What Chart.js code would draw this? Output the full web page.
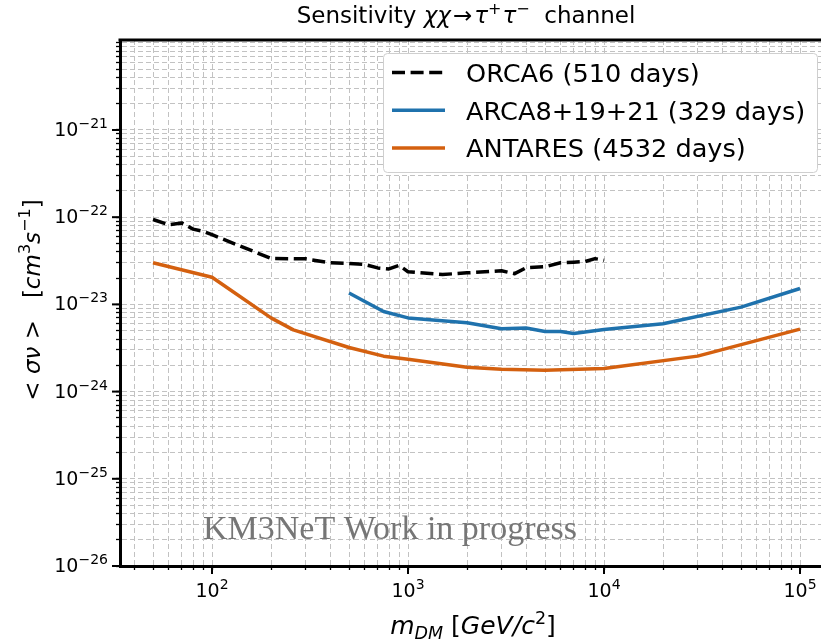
<!DOCTYPE html>
<html><head><meta charset="utf-8">
<script src="https://cdn.jsdelivr.net/npm/chart.js@4.4.0/dist/chart.umd.min.js"></script>
<style>html,body{margin:0;padding:0;background:#fff;overflow:hidden}canvas{display:block}</style>
</head><body>
<canvas id="c" width="821" height="641"></canvas>
<script>
// ---- data ----
const orcaMass = [50, 60, 70, 80, 90, 100, 200, 300, 400, 500, 600, 700, 800, 900, 1000, 1500, 2000, 3000, 3500, 4000, 5000, 6000, 7000, 8000, 9000, 10000];
const orcaSens = [9.4e-23, 8.2e-23, 8.6e-23, 7.3e-23, 6.9e-23, 6.3e-23, 3.36e-23, 3.33e-23, 3.0e-23, 2.95e-23, 2.87e-23, 2.62e-23, 2.55e-23, 2.8e-23, 2.37e-23, 2.2e-23, 2.3e-23, 2.43e-23, 2.25e-23, 2.63e-23, 2.7e-23, 3.0e-23, 3.05e-23, 3.1e-23, 3.35e-23, 3.2e-23];
const arcaMass = [500, 750, 1000, 2000, 3000, 4000, 5000, 6000, 7000, 10000, 20000, 50000, 100000];
const arcaSens = [1.35e-23, 8.3e-24, 7.0e-24, 6.15e-24, 5.25e-24, 5.35e-24, 4.9e-24, 4.9e-24, 4.63e-24, 5.15e-24, 6.0e-24, 9.3e-24, 1.52e-23];
const antaresMass = [50, 100, 200, 260, 500, 750, 1000, 2000, 3000, 5000, 10000, 30000, 100000];
const antaresSens = [3.0e-23, 2.05e-23, 7.0e-24, 5.1e-24, 3.2e-24, 2.55e-24, 2.35e-24, 1.9e-24, 1.8e-24, 1.76e-24, 1.84e-24, 2.55e-24, 5.2e-24];
const seriesLabels = ['ORCA6 (510 days)', 'ARCA8+19+21 (329 days)', 'ANTARES (4532 days)'];
const xTickExps = [2, 3, 4, 5];
const yTickExps = [-26, -25, -24, -23, -22, -21];
const watermark = 'KM3NeT Work in progress';

// ---- helpers ----
const FONT = '"DejaVu Sans"';
function fnt(r) { return (r.i ? 'italic ' : '') + r.s + 'px ' + (r.f || FONT); }
function runsWidth(ctx, runs) {
  let w = 0;
  runs.forEach(r => { ctx.font = fnt(r); r.w = ctx.measureText(r.t).width; w += r.w + (r.g || 0); });
  return w;
}
function drawRuns(ctx, runs, x, y, align) {
  const w = runsWidth(ctx, runs);
  let cx = align === 'center' ? x - w / 2 : (align === 'right' ? x - w : x);
  ctx.textAlign = 'left'; ctx.textBaseline = 'alphabetic';
  runs.forEach(r => { ctx.font = fnt(r); ctx.fillText(r.t, cx, y + (r.dy || 0)); cx += r.w + (r.g || 0); });
}
function supNum(e) { return (e < 0 ? '\u2212' : '') + Math.abs(e); }
function buildLogTicks(min, max) {
  const t = [];
  for (let e = Math.floor(Math.log10(min)); e <= Math.ceil(Math.log10(max)); e++) {
    for (let k = 1; k <= 9; k++) {
      const v = k * Math.pow(10, e);
      if (v >= min * (1 - 1e-9) && v <= max * (1 + 1e-9)) t.push({ value: v, major: k === 1 });
    }
  }
  return t;
}

const annot = {
  id: 'annot',
  afterDraw(chart) {
    const ctx = chart.ctx, ca = chart.chartArea;
    const xs = chart.scales.x, ys = chart.scales.y;
    ctx.save();
    // top frame line
    ctx.strokeStyle = '#000'; ctx.lineWidth = 3; ctx.setLineDash([]);
    ctx.beginPath(); ctx.moveTo(ca.left - 1.5, ca.top); ctx.lineTo(ca.right, ca.top); ctx.stroke();
    // major ticks
    ctx.lineWidth = 2;
    yTickExps.forEach(e => { const y = ys.getPixelForValue(Math.pow(10, e)); ctx.beginPath(); ctx.moveTo(ca.left - 8, y); ctx.lineTo(ca.left, y); ctx.stroke(); });
    xTickExps.forEach(e => { const x = xs.getPixelForValue(Math.pow(10, e)); ctx.beginPath(); ctx.moveTo(x, ca.bottom); ctx.lineTo(x, ca.bottom + 8); ctx.stroke(); });
    ctx.fillStyle = '#000';
    // tick labels
    yTickExps.forEach(e => {
      const y = ys.getPixelForValue(Math.pow(10, e));
      drawRuns(ctx, [{ t: '10', s: 19 }, { t: supNum(e), s: 14, dy: -8 }], 108, y + 6, 'right');
    });
    xTickExps.forEach(e => {
      const x = xs.getPixelForValue(Math.pow(10, e));
      drawRuns(ctx, [{ t: '10', s: 19 }, { t: supNum(e), s: 14, dy: -8 }], x, 597, 'center');
    });
    // title
    drawRuns(ctx, [
      { t: 'Sensitivity ', s: 23 }, { t: '\u03c7\u03c7', s: 23, i: 1, g: 2 }, { t: '\u2192', s: 23, g: 2 },
      { t: '\u03c4', s: 23, i: 1 }, { t: '+', s: 16, dy: -9, g: 1 }, { t: '\u03c4', s: 23, i: 1 }, { t: '\u2212', s: 16, dy: -9 },
      { t: '  channel', s: 23 }
    ], 466, 23, 'center');
    // x label
    drawRuns(ctx, [
      { t: 'm', s: 25, i: 1 }, { t: 'DM', s: 17.5, i: 1, dy: 5 }, { t: ' [', s: 25 }, { t: 'GeV/c', s: 25, i: 1 },
      { t: '2', s: 17.5, dy: -10 }, { t: ']', s: 25 }
    ], 473, 634, 'center');
    // y label
    ctx.save();
    ctx.translate(40, 300); ctx.rotate(-Math.PI / 2);
    drawRuns(ctx, [
      { t: '< ', s: 23 }, { t: '\u03c3\u03bd', s: 23, i: 1 }, { t: ' >', s: 23 }, { t: '   [', s: 23 },
      { t: 'cm', s: 23, i: 1 }, { t: '3', s: 16, dy: -10 }, { t: 's', s: 23, i: 1 }, { t: '\u22121', s: 16, dy: -10 }, { t: ']', s: 23 }
    ], 0, 0, 'center');
    ctx.restore();
    // watermark
    ctx.fillStyle = '#767676';
    drawRuns(ctx, [{ t: watermark, s: 34, f: '"Liberation Serif"' }], 203, 539, 'left');
    // legend
    const L = { x: 383.5, y: 53.5, w: 434, h: 119 };
    ctx.fillStyle = '#fff'; ctx.strokeStyle = '#cfcfcf'; ctx.lineWidth = 1;
    ctx.beginPath(); ctx.roundRect(L.x, L.y, L.w, L.h, 4); ctx.fill(); ctx.stroke();
    chart.data.datasets.forEach((ds, i) => {
      const y = 72.5 + i * 37.7;
      ctx.strokeStyle = ds.borderColor; ctx.lineWidth = ds.borderWidth;
      ctx.setLineDash(ds.borderDash || []); ctx.lineCap = 'butt';
      ctx.beginPath(); ctx.moveTo(392, y); ctx.lineTo(445, y); ctx.stroke();
      ctx.setLineDash([]);
      ctx.fillStyle = '#000';
      drawRuns(ctx, [{ t: ds.label, s: 25.6 }], 466, y + 9.5, 'left');
    });
    ctx.restore();
  }
};

const pts = (xs, ys) => xs.map((m, i) => ({ x: m, y: ys[i] }));
const gridOpts = { color: '#c2c2c2', lineWidth: 1, tickLength: 4, tickColor: '#000', tickWidth: 1.3, drawTicks: true };
const borderOpts = { display: true, color: '#000', width: 3, dash: [5, 3] };

new Chart(document.getElementById('c'), {
  type: 'line',
  data: {
    datasets: [
      { label: seriesLabels[0], data: pts(orcaMass, orcaSens), borderColor: '#000000', borderDash: [13, 5.6], borderWidth: 3.5, pointRadius: 0, tension: 0, fill: false, borderCapStyle: 'butt', borderJoinStyle: 'round' },
      { label: seriesLabels[1], data: pts(arcaMass, arcaSens), borderColor: '#1f72ad', borderWidth: 3.5, pointRadius: 0, tension: 0, fill: false, borderJoinStyle: 'round' },
      { label: seriesLabels[2], data: pts(antaresMass, antaresSens), borderColor: '#d4600f', borderWidth: 3.5, pointRadius: 0, tension: 0, fill: false, borderJoinStyle: 'round' }
    ]
  },
  options: {
    responsive: false, animation: false, devicePixelRatio: 1,
    layout: { padding: { left: 0, right: 0, top: 40, bottom: 0 } },
    plugins: { legend: { display: false }, title: { display: false }, tooltip: { enabled: false } },
    scales: {
      x: {
        type: 'logarithmic', position: 'bottom', min: Math.pow(10, 1.5306), max: Math.pow(10, 5.107), bounds: 'data',
        afterBuildTicks: s => { s.ticks = buildLogTicks(s.min, s.max); },
        afterFit: s => { s.height = 75; },
        ticks: { display: false }, grid: gridOpts, border: borderOpts
      },
      y: {
        type: 'logarithmic', position: 'left', min: 1e-26, max: 1.076e-20, bounds: 'data',
        afterBuildTicks: s => { s.ticks = buildLogTicks(s.min, s.max); },
        afterFit: s => { s.width = 120; },
        ticks: { display: false }, grid: gridOpts, border: borderOpts
      }
    }
  },
  plugins: [annot]
});
</script>
</body></html>
